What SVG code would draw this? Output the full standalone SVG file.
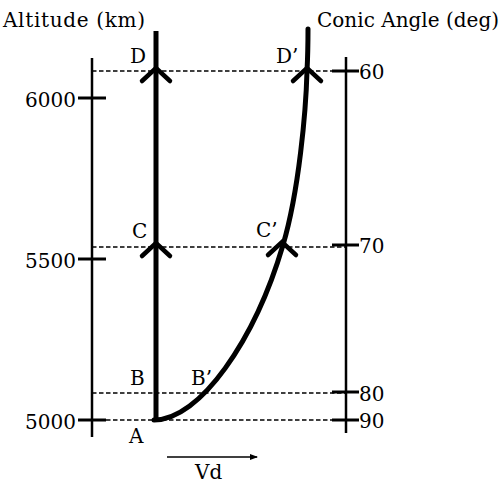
<svg xmlns="http://www.w3.org/2000/svg" xmlns:xlink="http://www.w3.org/1999/xlink" width="502" height="484" viewBox="0 0 502 484">
<style>
text{font-family:"DejaVu Serif","Liberation Serif",serif;font-size:20px;fill:#000}
.axis{stroke:#000;stroke-width:2.5;fill:none}
.tick{stroke:#000;stroke-width:3;fill:none}
.dash{stroke:#000;stroke-width:1.3;stroke-dasharray:4.5 2.5;fill:none}
.thick{stroke:#000;stroke-width:5;fill:none;stroke-linecap:round}
.chev{stroke:#000;stroke-width:4.5;fill:none;stroke-linecap:round;stroke-linejoin:miter}
</style>
<defs>
<path id="chev" d="M-14,13 L0,0 L14,13" class="chev"/>
<marker id="ah" markerWidth="8" markerHeight="6" refX="7" refY="3" orient="auto" markerUnits="userSpaceOnUse">
<path d="M0,0 L8,3 L0,6 Z" fill="#000"/>
</marker>
</defs>
<rect width="502" height="484" fill="#fff"/>
<g id="altitude-axis">
<line class="axis" x1="92" y1="58" x2="92" y2="437"/>
<line class="tick" x1="78" y1="98" x2="106" y2="98"/>
<line class="tick" x1="78" y1="259" x2="106" y2="259"/>
<line class="tick" x1="78" y1="420" x2="106" y2="420"/>
<text x="3" y="27" textLength="142">Altitude (km)</text>
<text x="76" y="107" text-anchor="end">6000</text>
<text x="76" y="268" text-anchor="end">5500</text>
<text x="76" y="429" text-anchor="end">5000</text>
</g>
<g id="conic-axis">
<line class="axis" x1="346" y1="57" x2="346" y2="433"/>
<line class="tick" x1="332" y1="71" x2="359" y2="71"/>
<line class="tick" x1="332" y1="245" x2="359" y2="245"/>
<line class="tick" x1="332" y1="392" x2="359" y2="392"/>
<line class="tick" x1="332" y1="420" x2="359" y2="420"/>
<text x="317" y="27" textLength="182">Conic Angle (deg)</text>
<text x="359" y="79">60</text>
<text x="359" y="253">70</text>
<text x="359" y="401">80</text>
<text x="359" y="428">90</text>
</g>
<g id="connectors">
<line class="dash" x1="92" y1="71" x2="346" y2="71"/>
<line class="dash" x1="92" y1="247" x2="346" y2="247"/>
<line class="dash" x1="92" y1="393" x2="346" y2="393"/>
<line class="dash" x1="92" y1="420" x2="346" y2="420"/>
</g>
<g id="vertical-path">
<line class="thick" x1="156" y1="31" x2="156" y2="420" style="stroke-linecap:butt"/>
<use xlink:href="#chev" x="156" y="68"/>
<use xlink:href="#chev" x="156" y="243"/>
</g>
<g id="curved-path">
<path class="thick" d="M154,420 C200,420 255,340 283,245 C299,191 306,110 307,71 C308,52 308,40 308,29"/>
<use xlink:href="#chev" x="282" y="242"/>
<use xlink:href="#chev" x="307" y="68"/>
</g>
<g id="labels">
<text x="130" y="63">D</text>
<text x="132" y="238">C</text>
<text x="130" y="385">B</text>
<text x="129" y="443">A</text>
<text x="276" y="63">D’</text>
<text x="256" y="237">C’</text>
<text x="191" y="385">B’</text>
</g>
<g id="vd">
<line x1="167" y1="457" x2="257" y2="457" stroke="#000" stroke-width="1.5" marker-end="url(#ah)"/>
<text x="195" y="479">Vd</text>
</g>
</svg>
